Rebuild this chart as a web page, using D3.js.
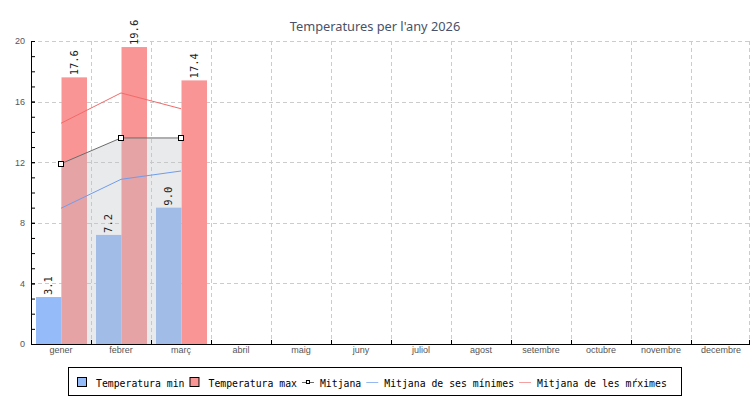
<!DOCTYPE html>
<html><head><meta charset="utf-8">
<script src="https://cdn.jsdelivr.net/npm/d3@7/dist/d3.min.js"></script>
<style>body{margin:0;background:#fff}svg{display:block}</style>
</head><body>
<svg id="chart" width="750" height="400"></svg>
<script>
const title = "Temperatures per l'any 2026";
const months = ["gener","febrer","març","abril","maig","juny","juliol","agost","setembre","octubre","novembre","decembre"];
const tempMin = [3.1, 7.2, 9.0];
const tempMax = [17.6, 19.6, 17.4];
const mitjana = [11.9, 13.6, 13.6];
const avgMin = [8.96, 10.87, 11.42];
const avgMax = [14.57, 16.57, 15.53];
const yTicks = [0, 4, 8, 12, 16, 20];
const legendLabels = ["Temperatura min", "Temperatura max", "Mitjana", "Mitjana de ses mínimes", "Mitjana de les mŕximes"];

const svg = d3.select("#chart");
const L = 31, R = 751, T = 41, B = 344;
const x = d3.scaleBand().domain(months).range([L, R]);
const x1 = d3.scaleBand().domain(["min", "max"]).range([5, 56]);
const y = d3.scaleLinear().domain([0, 20]).range([B, T]);
const bw = x.bandwidth();
const cx = (i) => x(months[i]) + bw / 2;

const COL_MIN = "#95bbf9", COL_MAX = "#f99595";

// title
svg.append("text").attr("x", 375).attr("y", 31).attr("text-anchor", "middle")
  .attr("font-family", "Noto Sans").attr("font-size", 12.8).attr("fill", "#4a5168").text(title);

// grid
const grid = svg.append("g").attr("stroke", "#cccccc").attr("stroke-dasharray", "4,3").attr("fill", "none");
grid.selectAll("line.h").data(yTicks.filter(d => d > 0)).join("line")
  .attr("x1", L).attr("x2", R).attr("y1", d => Math.round(y(d)) + 0.5).attr("y2", d => Math.round(y(d)) + 0.5);
const bounds = months.slice(1).map(m => x(m)).concat([R - 2]);
grid.selectAll("line.v").data(bounds).join("line")
  .attr("x1", d => Math.round(d) + 0.5).attr("x2", d => Math.round(d) + 0.5).attr("y1", T).attr("y2", B);

// bars
const barData = [];
tempMin.forEach((v, i) => barData.push({ m: months[i], k: "min", v }));
tempMax.forEach((v, i) => barData.push({ m: months[i], k: "max", v }));
svg.append("g").selectAll("rect").data(barData).join("rect")
  .attr("x", d => x(d.m) + x1(d.k)).attr("width", x1.bandwidth())
  .attr("y", d => y(d.v)).attr("height", d => y(0) - y(d.v))
  .attr("fill", d => d.k === "min" ? COL_MIN : COL_MAX);

// area under mitjana
const area = d3.area().x((d, i) => cx(i)).y0(y(0)).y1(d => y(d));
svg.append("path").datum(mitjana).attr("d", area)
  .attr("fill", "rgb(188,192,198)").attr("fill-opacity", 0.33);

// average lines
const line = d3.line().x((d, i) => cx(i)).y(d => y(d));
svg.append("path").datum(avgMax).attr("d", line).attr("fill", "none").attr("stroke", "#f26a6a").attr("stroke-width", 1);
svg.append("path").datum(avgMin).attr("d", line).attr("fill", "none").attr("stroke", "#6f9cec").attr("stroke-width", 1);
svg.append("path").datum(mitjana).attr("d", line).attr("fill", "none").attr("stroke", "#6b6b6b").attr("stroke-width", 1);
svg.append("g").selectAll("rect").data(mitjana).join("rect")
  .attr("x", (d, i) => Math.round(cx(i)) - 2.5).attr("y", d => Math.round(y(d)) - 2.5)
  .attr("width", 5).attr("height", 5).attr("fill", "#fff").attr("stroke", "#000").attr("stroke-width", 1);

// bar labels
const fmt = d3.format(".1f");
svg.append("g").selectAll("text").data(barData).join("text")
  .attr("transform", d => `translate(${x(d.m) + x1(d.k) + x1.bandwidth() / 2},${y(d.v) - 2}) rotate(-90)`)
  .attr("dy", "0.35em").attr("text-anchor", "start")
  .attr("font-family", "DejaVu Sans Mono").attr("font-size", 10.5).attr("fill", "#222")
  .text(d => fmt(d.v));

// y axis
const yAxis = svg.append("g").attr("transform", `translate(${L},0)`)
  .call(d3.axisLeft(y).tickValues(yTicks).tickSizeInner(-4).tickSizeOuter(0).tickPadding(6).tickFormat(d3.format("d")));
yAxis.select(".domain").attr("stroke", "#000");
yAxis.selectAll(".tick line").attr("stroke", "#000");
yAxis.selectAll("text").attr("font-family", "Liberation Sans").attr("font-size", 9).attr("fill", "#555");
const yMinor = svg.append("g").attr("transform", `translate(${L},0)`)
  .call(d3.axisLeft(y).tickValues(d3.range(0, 21)).tickSize(-4).tickFormat(""));
yMinor.select(".domain").remove();
yMinor.selectAll(".tick line").attr("stroke", "#000");

// x axis
const xg = svg.append("g");
xg.append("line").attr("x1", L).attr("x2", R).attr("y1", B + 0.5).attr("y2", B + 0.5).attr("stroke", "#000");
xg.selectAll("line.t").data(months.slice(1).map(m => x(m)).concat([R - 2])).join("line")
  .attr("x1", d => Math.round(d) + 0.5).attr("x2", d => Math.round(d) + 0.5)
  .attr("y1", B - 4).attr("y2", B).attr("stroke", "#000");
xg.selectAll("text").data(months).join("text")
  .attr("x", d => x(d) + bw / 2).attr("y", 353).attr("text-anchor", "middle")
  .attr("font-family", "Liberation Sans").attr("font-size", 9).attr("fill", "#555").text(d => d);

// legend
const lg = svg.append("g");
lg.append("rect").attr("x", 68.5).attr("y", 367.5).attr("width", 613).attr("height", 28)
  .attr("fill", "#fff").attr("stroke", "#000");
const types = ["sw", "sw", "mk", "ln", "ln"];
const symColors = [COL_MIN, COL_MAX, "#6b6b6b", "#95b8f2", "#f5a0a0"];
let lx = 77;
legendLabels.forEach((lab, i) => {
  const t = types[i];
  if (t === "sw") {
    lg.append("rect").attr("x", lx + 0.5).attr("y", 377.5).attr("width", 9).attr("height", 9)
      .attr("fill", symColors[i]).attr("stroke", "#000");
    lx += 10 + 9;
  } else {
    lg.append("line").attr("x1", lx).attr("x2", lx + 12).attr("y1", 382.5).attr("y2", 382.5).attr("stroke", symColors[i]);
    if (t === "mk") lg.append("rect").attr("x", lx + 4.5).attr("y", 380.5).attr("width", 3).attr("height", 3)
      .attr("fill", "#fff").attr("stroke", "#000");
    lx += 12 + 6;
  }
  const tx = lg.append("text").attr("x", lx).attr("y", 387)
    .attr("font-family", "DejaVu Sans Mono").attr("font-size", 9.8).attr("fill", "#000").text(lab);
  lx += tx.node().getComputedTextLength() + 5;
});
</script>
</body></html>
